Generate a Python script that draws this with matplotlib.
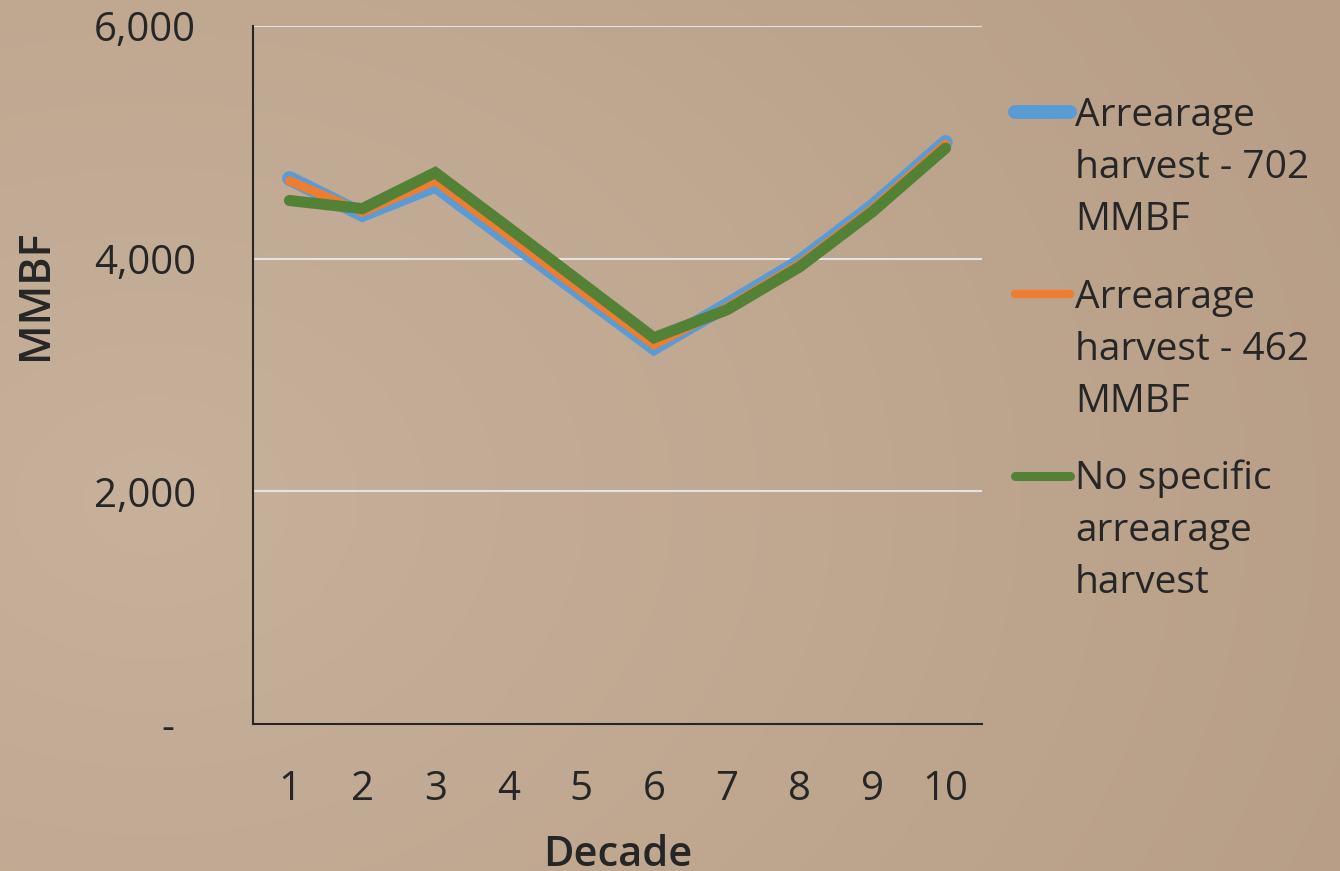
import matplotlib
matplotlib.use("Agg")
import matplotlib.pyplot as plt
import numpy as np
from matplotlib.lines import Line2D

decades = [1, 2, 3, 4, 5, 6, 7, 8, 9, 10]
arrearage_702 = [4690, 4380, 4630, 4165, 3700, 3235, 3600, 3975, 4450, 5000]
arrearage_462 = [4670, 4400, 4670, 4200, 3725, 3260, 3580, 3955, 4430, 4985]
no_specific = [4500, 4430, 4740, 4270, 3795, 3320, 3560, 3930, 4405, 4950]
series_labels = ["Arrearage\nharvest - 702\nMMBF",
                 "Arrearage\nharvest - 462\nMMBF",
                 "No specific\narrearage\nharvest"]
y_ticks = [0, 2000, 4000, 6000]
y_ticklabels = ["-  ", "2,000", "4,000", "6,000"]

colors = ["#5B9BD5", "#ED7D31", "#538135"]
widths = [10.5, 6.5, 8]

plt.rcParams['font.family'] = ['Open Sans', 'DejaVu Sans']

W, H = 1340, 871
fig = plt.figure(figsize=(W / 100, H / 100), dpi=100)

# background gradient
bg = fig.add_axes([0, 0, 1, 1], zorder=-10)
yy, xx = np.mgrid[0:H:4, 0:W:4]
r = np.sqrt(((xx - 150) / 1300) ** 2 + ((yy - 500) / 1000) ** 2)
r = np.clip(r, 0, 1)
c0 = np.array([199, 177, 155]) / 255
c1 = np.array([184, 158, 134]) / 255
img = c0[None, None, :] * (1 - r[..., None]) + c1[None, None, :] * r[..., None]
bg.imshow(img, extent=[0, 1, 0, 1], aspect='auto', origin='upper')
bg.axis('off')

ax = fig.add_axes([253 / W, 1 - 724 / H, 729 / W, (724 - 26) / H])
ax.patch.set_alpha(0)

for vals, c, lw in zip([arrearage_702, arrearage_462, no_specific], colors, widths):
    ax.plot(decades, vals, color=c, lw=lw, solid_capstyle='round',
            solid_joinstyle='miter', zorder=3)

ax.set_xlim(0.5, 10.5)
ax.set_ylim(0, 6000)
ax.set_xticks(decades)
ax.set_xticklabels([str(d) for d in decades])
ax.set_yticks(y_ticks)
ax.set_yticklabels(y_ticklabels)
ax.tick_params(axis='both', length=0, labelsize=29, colors='#262626')
ax.tick_params(axis='y', pad=41)
ax.tick_params(axis='x', pad=33)
ax.yaxis.grid(True, color='#E3E3E3', lw=1.5, zorder=1)
ax.set_axisbelow(True)
for s in ['top', 'right']:
    ax.spines[s].set_visible(False)
for s in ['left', 'bottom']:
    ax.spines[s].set_color('#262626')
    ax.spines[s].set_linewidth(1.5)

ax.set_xlabel("Decade", fontsize=30, fontweight='semibold', color='#262626')
ax.xaxis.set_label_coords(0.5, -0.157)
ax.set_ylabel("MMBF", fontsize=31, fontweight='semibold', color='#262626')
ax.yaxis.set_label_coords(-0.269, 0.615)

# legend (manual)
last_baselines = [230, 412, 593]
handle_y = [112, 294, 476]
for lab, c, lw, b, hy in zip(series_labels, colors, [10, 6, 6.5], last_baselines, handle_y):
    fig.add_artist(Line2D([1015 / W, 1070 / W], [1 - hy / H, 1 - hy / H],
                          color=c, lw=lw, solid_capstyle='round'))
    fig.text(1075 / W, 1 - b / H, lab, fontsize=28, color='#262626',
             ha='left', va='baseline', linespacing=1.49)

fig.savefig("out.png", dpi=100)
